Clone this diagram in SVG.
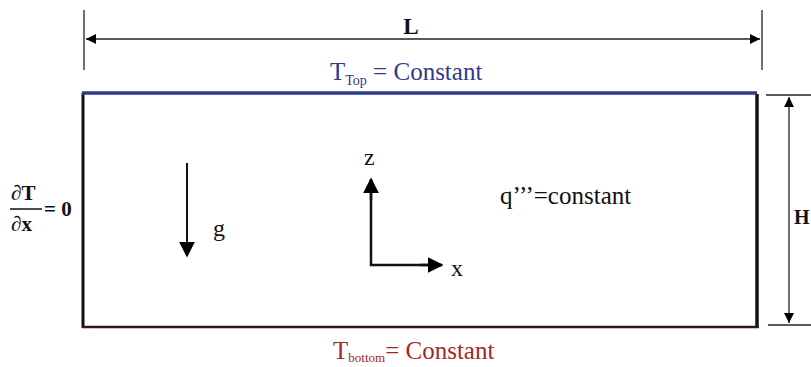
<svg xmlns="http://www.w3.org/2000/svg" width="811" height="367" viewBox="0 0 811 367">
<defs>
<marker id="ah" viewBox="0 0 10 10" refX="10" refY="5" markerWidth="10" markerHeight="10" markerUnits="userSpaceOnUse" orient="auto-start-reverse"><path d="M0,0 L10,5 L0,10 z" fill="#000"/></marker>
<marker id="ahb" viewBox="0 0 10 10" refX="9" refY="5" markerWidth="16" markerHeight="16" markerUnits="userSpaceOnUse" orient="auto"><path d="M0,0 L10,5 L0,10 z" fill="#000"/></marker>
<style>
.t{font-family:'Liberation Serif','Times New Roman',serif;fill:#111}
.b{font-weight:bold}
.dim{stroke:#222;stroke-width:1.3;fill:none}
</style>
</defs>
<rect width="811" height="367" fill="#fff"/>
<g id="domain">
<line x1="83" y1="93" x2="83" y2="328" stroke="#111" stroke-width="3"/>
<line x1="757" y1="94" x2="757" y2="328" stroke="#111" stroke-width="3.5"/>
<line x1="82" y1="327" x2="759" y2="327" stroke="#3a1414" stroke-width="2.5"/>
<line x1="82" y1="93" x2="757" y2="93" stroke="#2e3a8a" stroke-width="3.5"/>
</g>
<g id="connectors">
<line class="dim" x1="84" y1="10" x2="84" y2="70"/>
<line class="dim" x1="762" y1="10" x2="762" y2="70"/>
<line class="dim" x1="86" y1="39" x2="760" y2="39" marker-start="url(#ah)" marker-end="url(#ah)"/>
<line class="dim" x1="766" y1="95" x2="811" y2="95"/>
<line class="dim" x1="768" y1="325" x2="811" y2="325" stroke-width="2"/>
<line class="dim" x1="789" y1="97" x2="789" y2="323" marker-start="url(#ah)" marker-end="url(#ah)"/>
<line x1="187" y1="163" x2="187" y2="256" stroke="#111" stroke-width="2" marker-end="url(#ahb)"/>
<polyline points="371,180 371,265 441,265" fill="none" stroke="#111" stroke-width="2.5"/>
<line x1="371" y1="200" x2="371" y2="179" stroke="#111" stroke-width="2.5" marker-end="url(#ahb)"/>
<line x1="420" y1="265" x2="442" y2="265" stroke="#111" stroke-width="2.5" marker-end="url(#ahb)"/>
</g>
<g id="label-L"><text class="t b" x="411" y="34" font-size="23" text-anchor="middle">L</text></g>
<g id="label-H"><text class="t b" x="794" y="224" font-size="20">H</text></g>
<g id="label-top"><text class="t" x="330" y="80" font-size="25" style="fill:#2e3a8a">T<tspan font-size="14" dy="5">Top</tspan><tspan dy="-5"> = Constant</tspan></text></g>
<g id="label-bottom"><text class="t" x="333" y="359" font-size="25" style="fill:#a02828">T<tspan font-size="13" dy="3">bottom</tspan><tspan dy="-3">= Constant</tspan></text></g>
<g id="label-bc">
<text class="t b" x="11" y="200" font-size="21">∂T</text>
<line x1="10" y1="209" x2="42" y2="209" stroke="#111" stroke-width="1.5"/>
<text class="t b" x="11" y="231" font-size="21">∂x</text>
<text class="t b" x="44" y="216" font-size="21">= 0</text>
</g>
<g id="label-g"><text class="t" x="213" y="236" font-size="24">g</text></g>
<g id="label-z"><text class="t" x="364" y="165" font-size="24">z</text></g>
<g id="label-x"><text class="t" x="451" y="276" font-size="24">x</text></g>
<g id="label-q"><text class="t" x="500" y="204" font-size="25">q’’’=constant</text></g>
</svg>
